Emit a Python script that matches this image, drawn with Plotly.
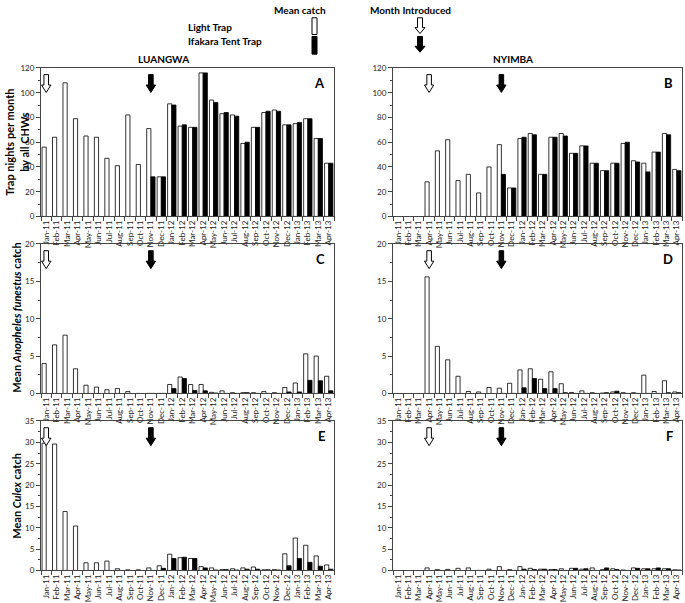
import plotly.graph_objects as go

W, H = 685, 603

months = ["Jan-11", "Feb-11", "Mar-11", "Apr-11", "May-11", "Jun-11", "Jul-11", "Aug-11",
          "Sep-11", "Oct-11", "Nov-11", "Dec-11", "Jan-12", "Feb-12", "Mar-12", "Apr-12",
          "May-12", "Jun-12", "Jul-12", "Aug-12", "Sep-12", "Oct-12", "Nov-12", "Dec-12",
          "Jan-13", "Feb-13", "Mar-13", "Apr-13"]

# Panel A - Luangwa trap nights
luangwa_nights_light = [56, 64, 108, 79, 65, 64, 47, 41, 82, 42, 71, 32, 91, 73, 72, 116,
                        94, 83, 82, 59, 72, 84, 86, 74, 75, 79, 63, 43]
luangwa_nights_itt = [None] * 10 + [32, 32, 90, 74, 72, 116, 92, 84, 81, 60, 72, 85, 85, 74,
                                    76, 79, 63, 43]
# Panel B - Nyimba trap nights
nyimba_nights_light = [None, None, None, 28, 53, 62, 29, 34, 19, 40, 58, 23, 63, 67, 34, 64,
                       67, 51, 57, 43, 37, 43, 59, 45, 43, 52, 67, 38]
nyimba_nights_itt = [None] * 10 + [34, 23, 64, 66, 34, 64, 65, 51, 57, 43, 37, 43, 60, 44,
                                   36, 52, 66, 37]
# Panel C - Luangwa An. funestus
luangwa_fun_light = [4.0, 6.5, 7.8, 3.3, 1.1, 0.85, 0.5, 0.65, 0.25, 0, 0, 0, 1.2, 2.2, 1.2,
                     1.2, 0.15, 0.35, 0.1, 0.1, 0.1, 0.25, 0.1, 0.8, 1.4, 5.3, 5.0, 2.3]
luangwa_fun_itt = [None] * 10 + [0, 0, 0.65, 2.0, 0.4, 0.35, 0.05, 0, 0, 0.1, 0, 0, 0, 0.2,
                                 0.2, 1.75, 1.7, 0.35]
# Panel D - Nyimba An. funestus
nyimba_fun_light = [None, None, None, 15.6, 6.3, 4.5, 2.3, 0.26, 0.2, 0.8, 0.7, 1.36, 3.15,
                    3.3, 1.9, 2.9, 1.3, 0.13, 0.35, 0.1, 0.05, 0.2, 0.1, 0.1, 2.45, 0.26, 1.7, 0.2]
nyimba_fun_itt = [None] * 10 + [0, 0, 0.75, 2.0, 0.65, 0.65, 0.1, 0, 0, 0, 0.1, 0.3, 0, 0,
                                0, 0, 0.1, 0.1]
# Panel E - Luangwa Culex
luangwa_culex_light = [29.8, 29.6, 13.8, 10.4, 1.8, 1.8, 2.2, 0.4, 0.15, 0.15, 0.6, 1.1, 3.8,
                       3.0, 2.8, 0.9, 0.6, 0.2, 0.4, 0.6, 0.8, 0.15, 0.2, 3.9, 7.6, 5.9, 3.4, 1.3]
luangwa_culex_itt = [None] * 10 + [0, 0.5, 2.8, 3.1, 2.8, 0.6, 0.1, 0.2, 0.1, 0.3, 0.3, 0.15,
                                   0.1, 1.1, 2.8, 1.9, 1.0, 0.3]
# Panel F - Nyimba Culex
nyimba_culex_light = [None, None, None, 0.6, 0.2, 0.25, 0.5, 0.6, 0, 0.3, 0.9, 0.2, 0.9, 0.5,
                      0.3, 0.2, 0.4, 0.5, 0.3, 0.6, 0.2, 0.4, 0.1, 0.6, 0.4, 0.4, 0.4, 0.15]
nyimba_culex_itt = [None] * 10 + [0, 0, 0.3, 0.2, 0.3, 0.2, 0, 0.5, 0.4, 0, 0.6, 0.2, 0, 0.5,
                                  0.4, 0.6, 0.4, 0.1]

luangwa_light_intro = "Jan-11"
nyimba_light_intro = "Apr-11"
itt_intro = "Nov-11"

FONT = "Lato, 'Liberation Sans', Arial, sans-serif"


def px(x):
    return x / W


def py(y):
    return 1 - y / H


xdom_left = [px(41), px(334)]
xdom_right = [px(393), px(682)]
ydoms = [[py(215), py(64)], [py(395), py(243)], [py(575), py(423)]]

panels = [
    ("A", luangwa_nights_light, luangwa_nights_itt, 0, 0, [0, 120], 20, 10, luangwa_light_intro),
    ("B", nyimba_nights_light, nyimba_nights_itt, 0, 1, [0, 120], 20, 10, nyimba_light_intro),
    ("C", luangwa_fun_light, luangwa_fun_itt, 1, 0, [0, 20], 5, 2.5, luangwa_light_intro),
    ("D", nyimba_fun_light, nyimba_fun_itt, 1, 1, [0, 20], 5, 2.5, nyimba_light_intro),
    ("E", luangwa_culex_light, luangwa_culex_itt, 2, 0, [0, 35], 5, 2.5, luangwa_light_intro),
    ("F", nyimba_culex_light, nyimba_culex_itt, 2, 1, [0, 35], 5, 2.5, nyimba_light_intro),
]

fig = go.Figure()
layout = dict(
    width=W, height=H, margin=dict(l=0, r=0, t=0, b=0),
    paper_bgcolor="white", plot_bgcolor="white",
    barmode="group", bargap=0.2, bargroupgap=0.0,
    showlegend=False, font=dict(family=FONT, color="black"),
)
shapes = []
annotations = []


def arrow_path(cx, top, bot, bw, hw, hh):
    return (f"M {cx - bw},{top} L {cx + bw},{top} L {cx + bw},{bot + hh} L {cx + hw},{bot + hh} "
            f"L {cx},{bot} L {cx - hw},{bot + hh} L {cx - bw},{bot + hh} Z")


def label(x, y, text, size=10, anchor="center", angle=0):
    return dict(x=px(x), y=py(y), xref="paper", yref="paper", showarrow=False,
                xanchor=anchor, yanchor="middle", textangle=angle,
                text=text, font=dict(size=size))


for i, (letter, light, itt, row, col, yr, dt, mdt, intro) in enumerate(panels):
    n = "" if i == 0 else str(i + 1)
    xa, ya = "x" + n, "y" + n
    fig.add_trace(go.Bar(x=months, y=light, xaxis=xa, yaxis=ya, name="Light Trap",
                         marker=dict(color="white", line=dict(color="black", width=0.8))))
    fig.add_trace(go.Bar(x=months, y=itt, xaxis=xa, yaxis=ya, name="Ifakara Tent Trap",
                         marker=dict(color="black", line=dict(color="black", width=0.8))))
    layout["xaxis" + n] = dict(
        domain=xdom_left if col == 0 else xdom_right, anchor=ya, type="category",
        categoryorder="array", categoryarray=months,
        showline=True, linecolor="#444", linewidth=1, mirror=True,
        ticks="outside", ticklen=4, tickcolor="#444", tickson="boundaries",
        tickangle=-90, tickfont=dict(size=8, color="#222"), showgrid=False, zeroline=False,
        range=[-0.5, len(months) - 0.5], fixedrange=True,
    )
    layout["yaxis" + n] = dict(
        domain=ydoms[row], anchor=xa, range=yr, dtick=dt, tick0=0,
        showline=True, linecolor="#444", linewidth=1, mirror=True,
        ticks="outside", ticklen=4, tickcolor="#444",
        minor=dict(dtick=mdt, ticks="outside", ticklen=2, tickcolor="#444"),
        tickfont=dict(size=8, color="#222"), showgrid=False, zeroline=False,
    )
    # panel letter
    annotations.append(dict(x=0.975, y=0.9, xref=xa + " domain", yref=ya + " domain",
                            text=f"<b>{letter}</b>", showarrow=False,
                            xanchor="right", yanchor="middle", font=dict(size=13)))
    # month-introduced arrows
    li = months.index(intro)
    ii = months.index(itt_intro)
    shapes.append(dict(type="path", xref=xa, yref=ya + " domain",
                       path=arrow_path(li, 0.955, 0.835, 0.22, 0.45, 0.05),
                       fillcolor="white", line=dict(color="black", width=1)))
    shapes.append(dict(type="path", xref=xa, yref=ya + " domain",
                       path=arrow_path(ii, 0.955, 0.835, 0.22, 0.45, 0.05),
                       fillcolor="black", line=dict(color="black", width=1)))

# y-axis titles
annotations += [
    label(17, 140, "<b>Trap nights per month<br>by all CHWs</b>", 11, angle=-90),
    label(17, 318, "<b>Mean <i>Anopheles funestus</i> catch</b>", 11, angle=-90),
    label(17, 499, "<b>Mean <i>Culex</i> catch</b>", 11, angle=-90),
]
# site titles
annotations += [
    label(163, 55, "<b>LUANGWA</b>", 10),
    label(513, 55, "<b>NYIMBA</b>", 10),
]
# key at top
annotations += [
    label(300, 5, "<b>Mean catch</b>", 10),
    label(410, 5, "<b>Month Introduced</b>", 10),
    label(186, 22, "<b>Light Trap</b>", 10, anchor="left"),
    label(186, 37, "<b>Ifakara Tent Trap</b>", 10, anchor="left"),
]
shapes += [
    dict(type="rect", xref="paper", yref="paper", x0=px(312), x1=px(317), y0=py(30), y1=py(13),
         fillcolor="white", line=dict(color="black", width=1)),
    dict(type="rect", xref="paper", yref="paper", x0=px(312), x1=px(317), y0=py(50), y1=py(32),
         fillcolor="black", line=dict(color="black", width=1)),
    dict(type="path", xref="paper", yref="paper",
         path=arrow_path(px(420), py(13), py(29), px(2.5), px(5), 6 / H),
         fillcolor="white", line=dict(color="black", width=1)),
    dict(type="path", xref="paper", yref="paper",
         path=arrow_path(px(420), py(32), py(48), px(2.5), px(5), 6 / H),
         fillcolor="black", line=dict(color="black", width=1)),
]

layout["shapes"] = shapes
layout["annotations"] = annotations
fig.update_layout(**layout)
fig.write_html("out.html", config={"displayModeBar": False},
               post_script="document.body.style.margin='0px';document.body.style.overflow='hidden';")
